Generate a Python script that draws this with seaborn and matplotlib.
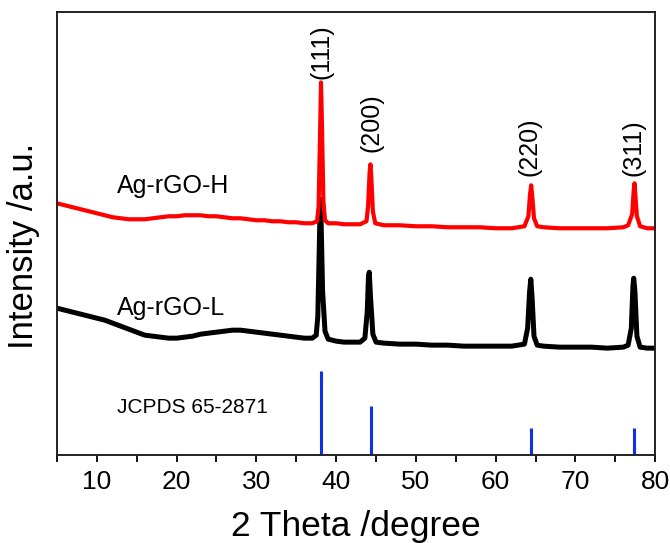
import matplotlib
matplotlib.use("Agg")
import matplotlib.pyplot as plt
from matplotlib.ticker import MultipleLocator
import seaborn as sns
import pandas as pd

sns.set_style("white")
plt.rcParams['font.family'] = ['Liberation Sans', 'DejaVu Sans']
plt.rcParams['text.color'] = 'black'
plt.rcParams['axes.labelcolor'] = 'black'
plt.rcParams['xtick.color'] = 'black'

# Ag-rGO-H (red) pattern: 2theta, intensity (a.u.)
h_x = [5, 6, 7, 8, 9, 10, 11, 12, 13, 14, 15, 16, 17, 18, 19, 20, 21, 22, 23, 24,
       25, 26, 27, 28, 29, 30, 31, 32, 33, 34, 35, 36, 37, 37.6, 37.8, 38.0, 38.1, 38.2,
       38.4, 38.6, 39, 40, 41, 42, 43, 43.8, 44.0, 44.2, 44.3, 44.4, 44.6, 44.9, 46, 48,
       50, 52, 54, 56, 58, 60, 62, 63.6, 64.1, 64.3, 64.45, 64.6, 64.8, 65.2, 66, 68, 70,
       72, 74, 76, 76.6, 77.1, 77.3, 77.4, 77.5, 77.7, 78.1, 79, 80]
h_y = [253, 251, 249, 247, 245, 243, 241, 239, 238, 237, 237, 237, 238, 239, 240, 240, 241, 241, 241, 240,
       240, 239, 238, 238, 237, 236, 236, 235, 235, 234, 234, 233, 233, 235, 250, 330, 374, 340,
       255, 236, 233, 233, 232, 232, 232, 235, 250, 285, 292, 280, 245, 233, 231, 231,
       230, 230, 229, 229, 229, 228, 228, 230, 240, 262, 271, 258, 238, 230, 229, 228, 228,
       228, 228, 229, 231, 242, 266, 273, 262, 240, 230, 228, 228]

# Ag-rGO-L (black) pattern
l_x = [5, 6, 7, 8, 9, 10, 11, 12, 13, 14, 15, 16, 17, 18, 19, 20, 21, 22, 23, 24,
       25, 26, 27, 28, 29, 30, 31, 32, 33, 34, 35, 36, 37, 37.5, 37.7, 37.9, 38.0, 38.1,
       38.3, 38.6, 39, 40, 41, 42, 43, 43.6, 43.9, 44.05, 44.15, 44.3, 44.6, 45, 46, 48,
       50, 52, 54, 56, 58, 60, 62, 63.6, 64.0, 64.25, 64.4, 64.55, 64.8, 65.2, 66, 68, 70,
       72, 74, 76, 76.6, 77.0, 77.2, 77.3, 77.45, 77.7, 78.1, 79, 80]
l_y = [148, 146, 144, 142, 140, 138, 136, 133, 130, 127, 124, 121, 120, 119, 118, 118, 119, 120, 122, 123,
       124, 125, 126, 126, 125, 124, 123, 122, 121, 120, 119, 118, 118, 121, 140, 215, 257, 240,
       165, 125, 117, 115, 114, 114, 114, 118, 145, 180, 184, 160, 122, 114, 113, 112,
       112, 111, 111, 110, 110, 110, 110, 112, 128, 165, 177, 160, 120, 111, 110, 109, 109,
       109, 108, 109, 111, 128, 170, 178, 165, 120, 109, 108, 108]

# JCPDS 65-2871 reference lines
ref_pos = [38.1, 44.4, 64.4, 77.3]
ref_int = [85, 50, 28, 28]
hkl = ["(111)", "(200)", "(220)", "(311)"]
hkl_x = [38.1, 44.4, 64.2, 77.3]
hkl_y = [377, 304, 280, 280]

df_h = pd.DataFrame({"x": h_x, "y": h_y})
df_l = pd.DataFrame({"x": l_x, "y": l_y})

fig = plt.figure(figsize=(6.7, 5.43), dpi=100)
ax = fig.add_axes([0.085, 0.162, 0.893, 0.815])

sns.lineplot(data=df_l, x="x", y="y", ax=ax, color="black", lw=3.6, sort=False)
sns.lineplot(data=df_h, x="x", y="y", ax=ax, color="#ff0000", lw=3.0, sort=False)
ax.vlines(ref_pos, 0, ref_int, color="#1030e8", lw=2.2)

for p, lab, yy in zip(hkl_x, hkl, hkl_y):
    ax.text(p, yy, lab, rotation=90, ha="center", va="bottom", fontsize=18)

ax.text(12.5, 263, "Ag-rGO-H", fontsize=18, ha="left", va="baseline")
ax.text(12.5, 141, "Ag-rGO-L", fontsize=18, ha="left", va="baseline")
ax.text(12.5, 43, "JCPDS 65-2871", fontsize=15, ha="left", va="baseline")

ax.set_xlim(5, 80)
ax.set_ylim(1, 444)
ax.xaxis.set_major_locator(MultipleLocator(10))
ax.xaxis.set_minor_locator(MultipleLocator(5))
ax.set_yticks([])
ax.tick_params(axis="x", which="major", direction="out", length=5, width=1.3,
               labelsize=19, bottom=True, top=False, pad=6, colors="black")
ax.tick_params(axis="x", which="minor", direction="out", length=5, width=1.3,
               bottom=True, colors="black")
for s in ax.spines.values():
    s.set_color("#222222")
    s.set_linewidth(1.4)

ax.set_xlabel("2 Theta /degree", fontsize=25.5, labelpad=11)
ax.set_ylabel("Intensity /a.u.", fontsize=25)
ax.yaxis.set_label_coords(-0.028, 0.473)

fig.savefig("out.png", dpi=100)
